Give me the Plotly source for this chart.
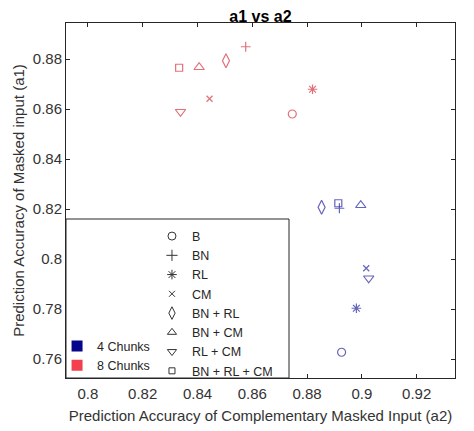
import plotly.graph_objects as go

methods = ["B", "BN", "RL", "CM", "BN + RL", "BN + CM", "RL + CM", "BN + RL + CM"]
a2_4chunks = [0.8926, 0.8918, 0.8980, 0.9016, 0.8853, 0.8996, 0.9025, 0.8914]
a1_4chunks = [0.7627, 0.8203, 0.7803, 0.7963, 0.8207, 0.8215, 0.7923, 0.8223]
a2_8chunks = [0.8746, 0.8576, 0.8820, 0.8444, 0.8504, 0.8406, 0.8338, 0.8333]
a1_8chunks = [0.8580, 0.8849, 0.8679, 0.8641, 0.8793, 0.8767, 0.8589, 0.8765]
groups = ["4 Chunks", "8 Chunks"]
x_ticks = [0.80, 0.82, 0.84, 0.86, 0.88, 0.90, 0.92]
x_tick_labels = ["0.8", "0.82", "0.84", "0.86", "0.88", "0.9", "0.92"]
y_ticks = [0.76, 0.78, 0.80, 0.82, 0.84, 0.86, 0.88]
y_tick_labels = ["0.76", "0.78", "0.8", "0.82", "0.84", "0.86", "0.88"]

symbols = ["circle-open", "cross-thin-open", "asterisk-open", "x-thin-open",
           "diamond-tall-open", "triangle-up-open", "triangle-down-open", "square-open"]
sizes = [8, 7, 8, 6, 10, 9, 9, 7]
leg_sizes = [8, 8, 8, 6, 9, 8, 8, 6]
marker_colors = ["#2222a0", "#d63342"]
swatch_colors = ["#06068c", "#f2404f"]
FONT = "Liberation Sans, Arial, sans-serif"
AX = "#262626"

# page body adds an 8px offset; figure is sized/margined to compensate
W, H = 466, 423
L, R, T, B = 58, 19, 15, 53

fig = go.Figure()
for xs, ys, col in [(a2_4chunks, a1_4chunks, marker_colors[0]),
                    (a2_8chunks, a1_8chunks, marker_colors[1])]:
    fig.add_trace(go.Scatter(
        x=xs, y=ys, mode="markers", showlegend=False, text=methods,
        marker=dict(symbol=symbols, size=sizes, color=col,
                    line=dict(color=col, width=1.2))))

for g, c in zip(groups, swatch_colors):
    fig.add_trace(go.Scatter(
        x=[None], y=[None], mode="markers", name=g, legend="legend",
        marker=dict(symbol="square", size=11, color=c, line=dict(width=0))))

for m, s, sz in zip(methods, symbols, leg_sizes):
    fig.add_trace(go.Scatter(
        x=[None], y=[None], mode="markers", name=m, legend="legend2",
        marker=dict(symbol=s, size=sz, color="#333333",
                    line=dict(color="#333333", width=1))))

axis_common = dict(showline=True, mirror="ticks", linecolor=AX, linewidth=1,
                   ticks="inside", ticklen=4, tickcolor=AX, showgrid=False,
                   zeroline=False, automargin=False,
                   tickfont=dict(family=FONT, size=15, color="#333333"))

fig.update_layout(
    width=W, height=H,
    margin=dict(l=L, r=R, t=T, b=B, autoexpand=False),
    paper_bgcolor="white", plot_bgcolor="white",
    font=dict(family=FONT, color="#333333"),
    title=dict(text="<b>a1 vs a2</b>", x=252.5 / W, xanchor="center",
               y=1 - 8.5 / H, yanchor="middle", yref="container",
               font=dict(family=FONT, size=16, color="#000000")),
    xaxis=dict(range=[0.792, 0.934], tickvals=x_ticks, ticktext=x_tick_labels,
               ticklabelstandoff=2,
               title=dict(text="Prediction Accuracy of Complementary Masked Input (a2)",
                          font=dict(family=FONT, size=15, color="#333333"), standoff=9),
               **axis_common),
    yaxis=dict(range=[0.7524, 0.8944], tickvals=y_ticks, ticktext=y_tick_labels,
               title=dict(text="Prediction Accuracy of Masked input (a1)",
                          font=dict(family=FONT, size=15, color="#333333"), standoff=4),
               **axis_common),
    legend=dict(x=-0.023, xanchor="left", y=0.131, yanchor="top",
                bgcolor="rgba(0,0,0,0)", borderwidth=0,
                font=dict(family=FONT, size=12.5, color="#262626")),
    legend2=dict(x=0.221, xanchor="left", y=0.441, yanchor="top",
                 bgcolor="rgba(0,0,0,0)", borderwidth=0,
                 font=dict(family=FONT, size=12.5, color="#262626")),
    shapes=[dict(type="rect", xref="paper", yref="paper", x0=0, x1=(289 - 66) / 389,
                 y0=0, y1=(378 - 219) / 355, fillcolor="white",
                 line=dict(color="#262626", width=1), layer="above")],
)

fig.write_html("out.html")
